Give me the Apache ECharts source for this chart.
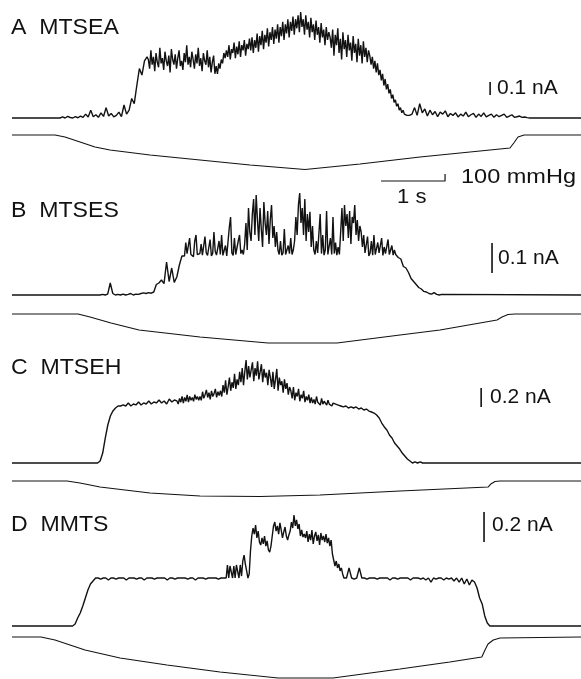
<!DOCTYPE html>
<html><head><meta charset="utf-8">
<script src="https://cdn.jsdelivr.net/npm/echarts@6/dist/echarts.min.js"></script>
<style>html,body{margin:0;padding:0;background:#fff}#c{width:581px;height:679px}</style>
</head><body><div id="c"></div>
<script>
// ---- time base ----
const T_END = 8.89;        // s, full trace length
const DT_SLOW = 0.04;      // s, sample period in quiet parts of a trace
const DT_FAST = 0.02;      // s, sample period in the noisy (channel-opening) parts

// ---- panel labels / scale texts ----
const panelLabels = ['A  MTSEA', 'B  MTSES', 'C  MTSEH', 'D  MMTS'];
const scaleLabels = ['0.1 nA', '0.1 nA', '0.2 nA', '0.2 nA'];
const scaleValues = [100, 100, 200, 200];   // pA
const timeScaleLabel = '1 s';
const pressScaleLabel = '100 mmHg';

// ---- current traces (pA). Each: pre (DT_SLOW), mid (DT_FAST), post (DT_SLOW) ----
const curA_preStart = 0.75;
const curA_pre = [0,8,0,12,4,0,10,2,15,5,30,8,60,10,25,5,40,12,80,15,35,8,20,45,10,100,30,
 60,150,110,250,380,330,440,470];
const curA_midStart = 2.13;
const curA_mid = [450,380,520,410,470,360,500,430,390,540,420,460,370,510,440,400,480,350,530,450,
 410,490,380,460,520,400,440,370,500,430,560,410,470,390,510,450,380,490,420,540,
 400,460,360,500,440,410,520,390,470,350,430,480,340,400,
 340,420,380,450,420,500,460,520,
 470,560,450,530,500,580,460,550,490,590,470,560,520,600,480,570,530,610,
 520,620,500,600,540,650,510,630,560,670,530,640,580,690,550,660,600,700,570,680,
 610,720,580,700,630,740,600,720,650,760,620,740,670,780,640,760,690,790,660,
 815,700,760,640,790,680,740,620,770,660,720,600,750,640,700,580,730,620,680,560,700,600,660,
 620,540,680,480,640,560,690,500,610,450,660,530,600,470,640,520,580,440,630,500,
 570,430,610,480,560,420,590,470,540,430,520,
 480,410,470,380,440,350,420,330,370,290,340,250,300,220,260,190,220,150,180,120,
 140,90,110,60,80,40,60,30,40,20,30,20];
const curA_postStart = 6.25;
const curA_post = [30,80,20,110,40,70,15,60,25,50,10,45,30,55,10,35,20,40,8,30,15,45,10,25,35,5,30,12,40,8,
 20,30,5,25,10,20,30,5,15,25,5,10,15,5,8,3,0];

const curB_preStart = 1.375;
const curB_pre = [0,2,0,3,40,5,0,2,0,3,0,2,5,0,3,2,5,
 7,5,8,6,10,
 35,40,50,38,110,45,90,42,
 60,100,130];
const curB_midStart = 2.675;
const curB_mid = [135,130,175,138,132,190,135,140,128,180,200,135,130,138,170,133,130,195,140,132,
 136,185,130,138,210,145,133,130,180,135,200,132,138,165,130,135,225,260,140,132,
 190,135,130,180,200,138,150,135,
 170,240,150,290,210,180,270,320,200,333,250,180,290,220,160,310,240,200,280,170,250,300,190,230,160,210,150,
 135,180,133,140,220,135,130,165,138,190,135,150,
 180,260,200,300,340,240,290,200,320,180,270,210,277,160,230,150,
 135,180,140,135,270,138,200,133,150,280,135,140,190,135,260,138,175,133,160,135,
 210,290,180,300,230,270,190,280,170,260,240,300,200,250,180,230,210,160,200,140,
 135,195,130,140,180,133,200,135,132,175,140,135,190,132,160,138,133,185,135,130,165,133,150,135,130];
const curB_postStart = 6.035;
const curB_post = [125,120,95,90,75,55,45,35,25,20,12,10,5,3,8,2,0,2];

const curC_preStart = 1.297;
const curC_pre = [0,0,21,
 105,263,400,495,548,579,600,
 600,611,600,632,600,621,611,642,611,632,621,653,621,642,632,663,632,653,621,674,642,663,653];
const curC_midStart = 2.597;
const curC_mid = [620,680,640,700,630,690,650,716,640,700,660,690,650,720,670,700,660,
 700,660,750,680,720,770,690,740,670,760,700,730,780,690,750,710,
 760,700,820,740,870,720,800,900,760,850,790,940,780,880,820,960,
 850,1000,820,960,1084,880,1020,900,980,1060,860,1000,920,1070,880,960,1040,850,990,900,950,820,980,
 900,800,960,780,880,990,760,900,820,860,740,880,780,840,720,800,
 760,680,800,660,740,700,780,650,720,680,760,640,700,660,720,630,
 690,630,670,620,700,640,660,610,680,620,650,640,610,660,620,640,600,630,610,620,600,610,600];
const curC_postStart = 5.137;
const curC_post = [600,590,600,579,590,579,590,568,579,558,568,547,537,
 526,505,474,421,379,347,295,263,211,179,147,105,74,42,21,0,11,0,11,0];

const curD_preStart = 0.906;
const curD_pre = [0,0,13,
 53,87,133,187,240,280,300,320,
 320,313,320,320,307,320,320,313,320,320,320,307,320,320,320,313,320,320,307,320,320,320,313,320,320,320,320,307,320,320,313,320,320,320,320,313,320,320,307,320,320,320,313,320,320,320,320,313,320,320];
const curD_midStart = 3.326;
const curD_mid = [320,320,407,320,400,407,320,400,320,407,413,320,407,333,
 433,473,413,367,320,347,500,600,
 653,613,673,587,633,560,540,
 587,547,600,533,567,507,493,533,600,667,
 693,633,667,613,687,640,587,627,660,600,573,607,
 633,693,653,740,667,707,647,680,600,640,593,613,
 587,633,560,613,573,640,547,600,627,567,607,540,620,573,600,560,613,553,587,
 533,573,480,440,400,433,387,413,367,387,347,320,320];
const curD_postStart = 5.226;
const curD_post = [320,387,320,313,320,387,320,320,313,320,320,320,313,320,320,320,320,307,320,320,313,320,320,320,320,307,320,320,320,313,320,307,320,293,320,313,320,320,307,320,313,320,300,320,
 293,320,280,313,273,307,293,
 253,187,147,67,20,0,0];

// ---- pressure traces (mmHg): [time s, pressure] ----
const presA = [[0,0],[0.672,0],[0.828,-29],[1.0625,-100],[1.297,-172],[1.531,-215],[2.156,-286],[2.9375,-358],[3.719,-429],[4.578,-493],[5.4375,-415],[6.375,-315],[7.3125,-229],[7.78,-186],[7.84,-114],[7.906,-29],[8.0,0],[8.89,0]];
const presB = [[0,0],[1.031,0],[1.219,-43],[1.547,-129],[1.984,-229],[2.9375,-329],[4.0,-414],[5.078,-414],[6.0625,-300],[6.6875,-229],[7.578,-86],[7.656,-43],[7.75,-7],[7.86,0],[8.89,0]];
const presC = [[0,0],[0.859,0],[1.0625,-29],[1.375,-86],[1.766,-129],[2.156,-171],[2.9375,-214],[3.875,-221],[4.8125,-200],[6.0625,-143],[7.4375,-86],[7.48,-43],[7.547,-7],[7.625,0],[8.89,0]];
const presD = [[0,0],[0.453,0],[0.672,-43],[0.906,-114],[1.141,-186],[1.6875,-300],[2.422,-400],[3.25,-500],[4.156,-586],[5.016,-586],[6.0625,-457],[6.84,-357],[7.34,-286],[7.39,-186],[7.4375,-100],[7.52,-43],[7.625,-14],[8.89,0]];

// ---- layout (pixels) ----
const LEFT = 12, WIDTH = 569;
const INK = '#121212';
const FONT = '"Liberation Sans", Arial, Helvetica, sans-serif';
// [top px, bottom px, baseline px, units per px]
const curGeom = [[5,125,118,100/13],[185,300,295,100/30],[355,470,463,200/19],[505,632,626,200/30]];
const presGeom = [[130,186,135,100/7],[309,360,314,100/7],[476,520,481,100/7],[632,679,637,100/7]];

const grids = [], xAxes = [], yAxes = [], series = [];
function addGrid(g){
  const [top,bottom,base,upp] = g;
  const idx = grids.length;
  grids.push({left:LEFT, width:WIDTH, top:top, height:bottom-top});
  xAxes.push({type:'value', gridIndex:idx, min:0, max:T_END, show:false});
  yAxes.push({type:'value', gridIndex:idx, min:-(bottom-base)*upp, max:(base-top)*upp, show:false});
  return idx;
}
function line(idx, data, w){
  series.push({type:'line', xAxisIndex:idx, yAxisIndex:idx, data:data, symbol:'none', showSymbol:false,
    clip:false, silent:true, animation:false, lineStyle:{color:INK, width:w}});
}
function seg(start, dt, vals){ return vals.map((v,i)=>[+(start+i*dt).toFixed(4), v]); }

const curs = [
  [curA_preStart,curA_pre,curA_midStart,curA_mid,curA_postStart,curA_post],
  [curB_preStart,curB_pre,curB_midStart,curB_mid,curB_postStart,curB_post],
  [curC_preStart,curC_pre,curC_midStart,curC_mid,curC_postStart,curC_post],
  [curD_preStart,curD_pre,curD_midStart,curD_mid,curD_postStart,curD_post]];
const pres = [presA,presB,presC,presD];
// scale bar anchors: [time s, lower pA]
const barPos = [[7.47,177],[7.5,73],[7.33,590],[7.375,560]];
for (let p=0;p<4;p++){
  const ci = addGrid(curGeom[p]);
  const c = curs[p];
  const d = [[0,0]].concat(seg(c[0],DT_SLOW,c[1]), seg(c[2],DT_FAST,c[3]), seg(c[4],DT_SLOW,c[5]), [[T_END,0]]);
  line(ci, d, 1.4);
  line(ci, [[barPos[p][0], barPos[p][1]],[barPos[p][0], barPos[p][1]+scaleValues[p]]], 1.6);
  const pi = addGrid(presGeom[p]);
  line(pi, pres[p], 1.1);
  if (p===0){
    // 1 s / 100 mmHg L-shaped bar
    line(pi, [[5.766,-657],[6.766,-657],[6.766,-557]], 1.2);
  }
}

// [text, x, y(middle), font px, horizontal stretch]
const texts = [
  [panelLabels[0],11,28,22,1.05],[panelLabels[1],11,211,22,1.05],[panelLabels[2],11,368,22,1.05],[panelLabels[3],11,525,22,1.05],
  [scaleLabels[0],497,88,21,1.0],[scaleLabels[1],498,258,21,1.0],[scaleLabels[2],490,397,21,1.0],[scaleLabels[3],492,525,21,1.0],
  [pressScaleLabel,461,177,21,1.12],[timeScaleLabel,397,197,21,1.05]
];
const graphic = texts.map(t=>({type:'text', x:t[1], y:t[2], scaleX:t[4], silent:true,
  style:{text:t[0], x:0, y:0, fill:INK, font:t[3]+'px '+FONT, verticalAlign:'middle', textVerticalAlign:'middle'}}));

const chart = echarts.init(document.getElementById('c'), null, {renderer:'canvas'});
chart.setOption({animation:false, backgroundColor:'#fff', grid:grids, xAxis:xAxes, yAxis:yAxes, series:series, graphic:graphic});
</script></body></html>
